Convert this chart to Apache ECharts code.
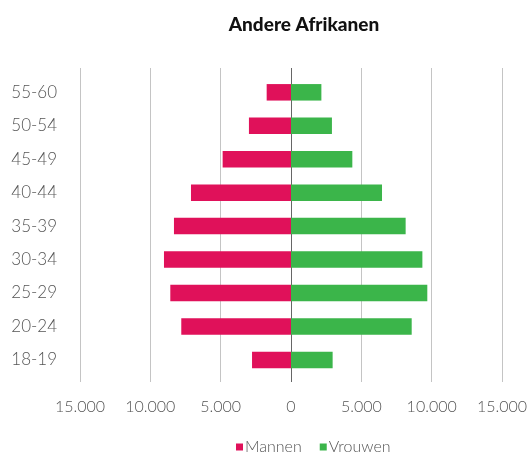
<!DOCTYPE html>
<html><head><meta charset="utf-8">
<script src="https://cdn.jsdelivr.net/npm/echarts@6/dist/echarts.min.js"></script>
<style>html,body{margin:0;padding:0;background:#fff}#c{width:532px;height:457px}</style>
</head><body><div id="c"></div>
<script>
var categories = ['55-60','50-54','45-49','40-44','35-39','30-34','25-29','20-24','18-19'];
var mannen = [1730, 2990, 4860, 7110, 8320, 9030, 8580, 7800, 2770];
var vrouwen = [2160, 2910, 4360, 6470, 8150, 9340, 9690, 8580, 2960];
var xTicks = [-15000, -10000, -5000, 0, 5000, 10000, 15000];
var title = 'Andere Afrikanen';

var fmt = function (v) {
  var a = Math.abs(v);
  return a >= 1000 ? String(a).replace(/\B(?=(\d{3})+(?!\d))/g, '.') : String(a);
};
var chart = echarts.init(document.getElementById('c'));
var font = 'Lato';
chart.setOption({
  animation: false,
  title: { text: title, left: 299, top: 10, textAlign: 'center',
    textStyle: { fontFamily: font, fontWeight: 900, fontSize: 19, color: '#111' } },
  legend: { top: 434, left: 231, itemWidth: 7, itemHeight: 7, itemGap: 18,
    icon: 'rect',
    textStyle: { fontFamily: font, fontWeight: 300, fontSize: 16, color: '#555', padding: [0,0,0,-3] },
    data: ['Mannen', 'Vrouwen'] },
  grid: [
    { left: 80, right: 30, top: 68, bottom: 75 },
    { left: 80, right: 30, top: 75.6, height: 301 }
  ],
  xAxis: [
    { type: 'value', gridIndex: 0, min: xTicks[0], max: xTicks[xTicks.length-1], interval: 5000,
      axisLine: { show: false }, axisTick: { show: false },
      axisLabel: { formatter: fmt, margin: 17, fontFamily: font, fontWeight: 300, fontSize: 16, color: '#555' },
      splitLine: { lineStyle: { width: 1, color: ['#c4c4c4','#c4c4c4','#c4c4c4','#666','#c4c4c4','#c4c4c4','#c4c4c4'] } } },
    { type: 'value', gridIndex: 1, min: xTicks[0], max: xTicks[xTicks.length-1], interval: 5000,
      show: false, splitLine: { show: false } }
  ],
  yAxis: [
    { type: 'category', gridIndex: 0, show: false, data: categories },
    { type: 'category', gridIndex: 1, data: categories, inverse: true,
      axisLine: { show: false }, axisTick: { show: false },
      axisLabel: { margin: 23, fontFamily: font, fontWeight: 300, fontSize: 17, color: '#555' } }
  ],
  series: [
    { name: 'Mannen', type: 'bar', xAxisIndex: 1, yAxisIndex: 1, barWidth: 16.5, barGap: '-100%',
      itemStyle: { color: '#e0115a' }, data: mannen.map(function (v) { return -v; }) },
    { name: 'Vrouwen', type: 'bar', xAxisIndex: 1, yAxisIndex: 1, barWidth: 16.5, barGap: '-100%',
      itemStyle: { color: '#3bb54a' }, data: vrouwen }
  ]
});
</script></body></html>
